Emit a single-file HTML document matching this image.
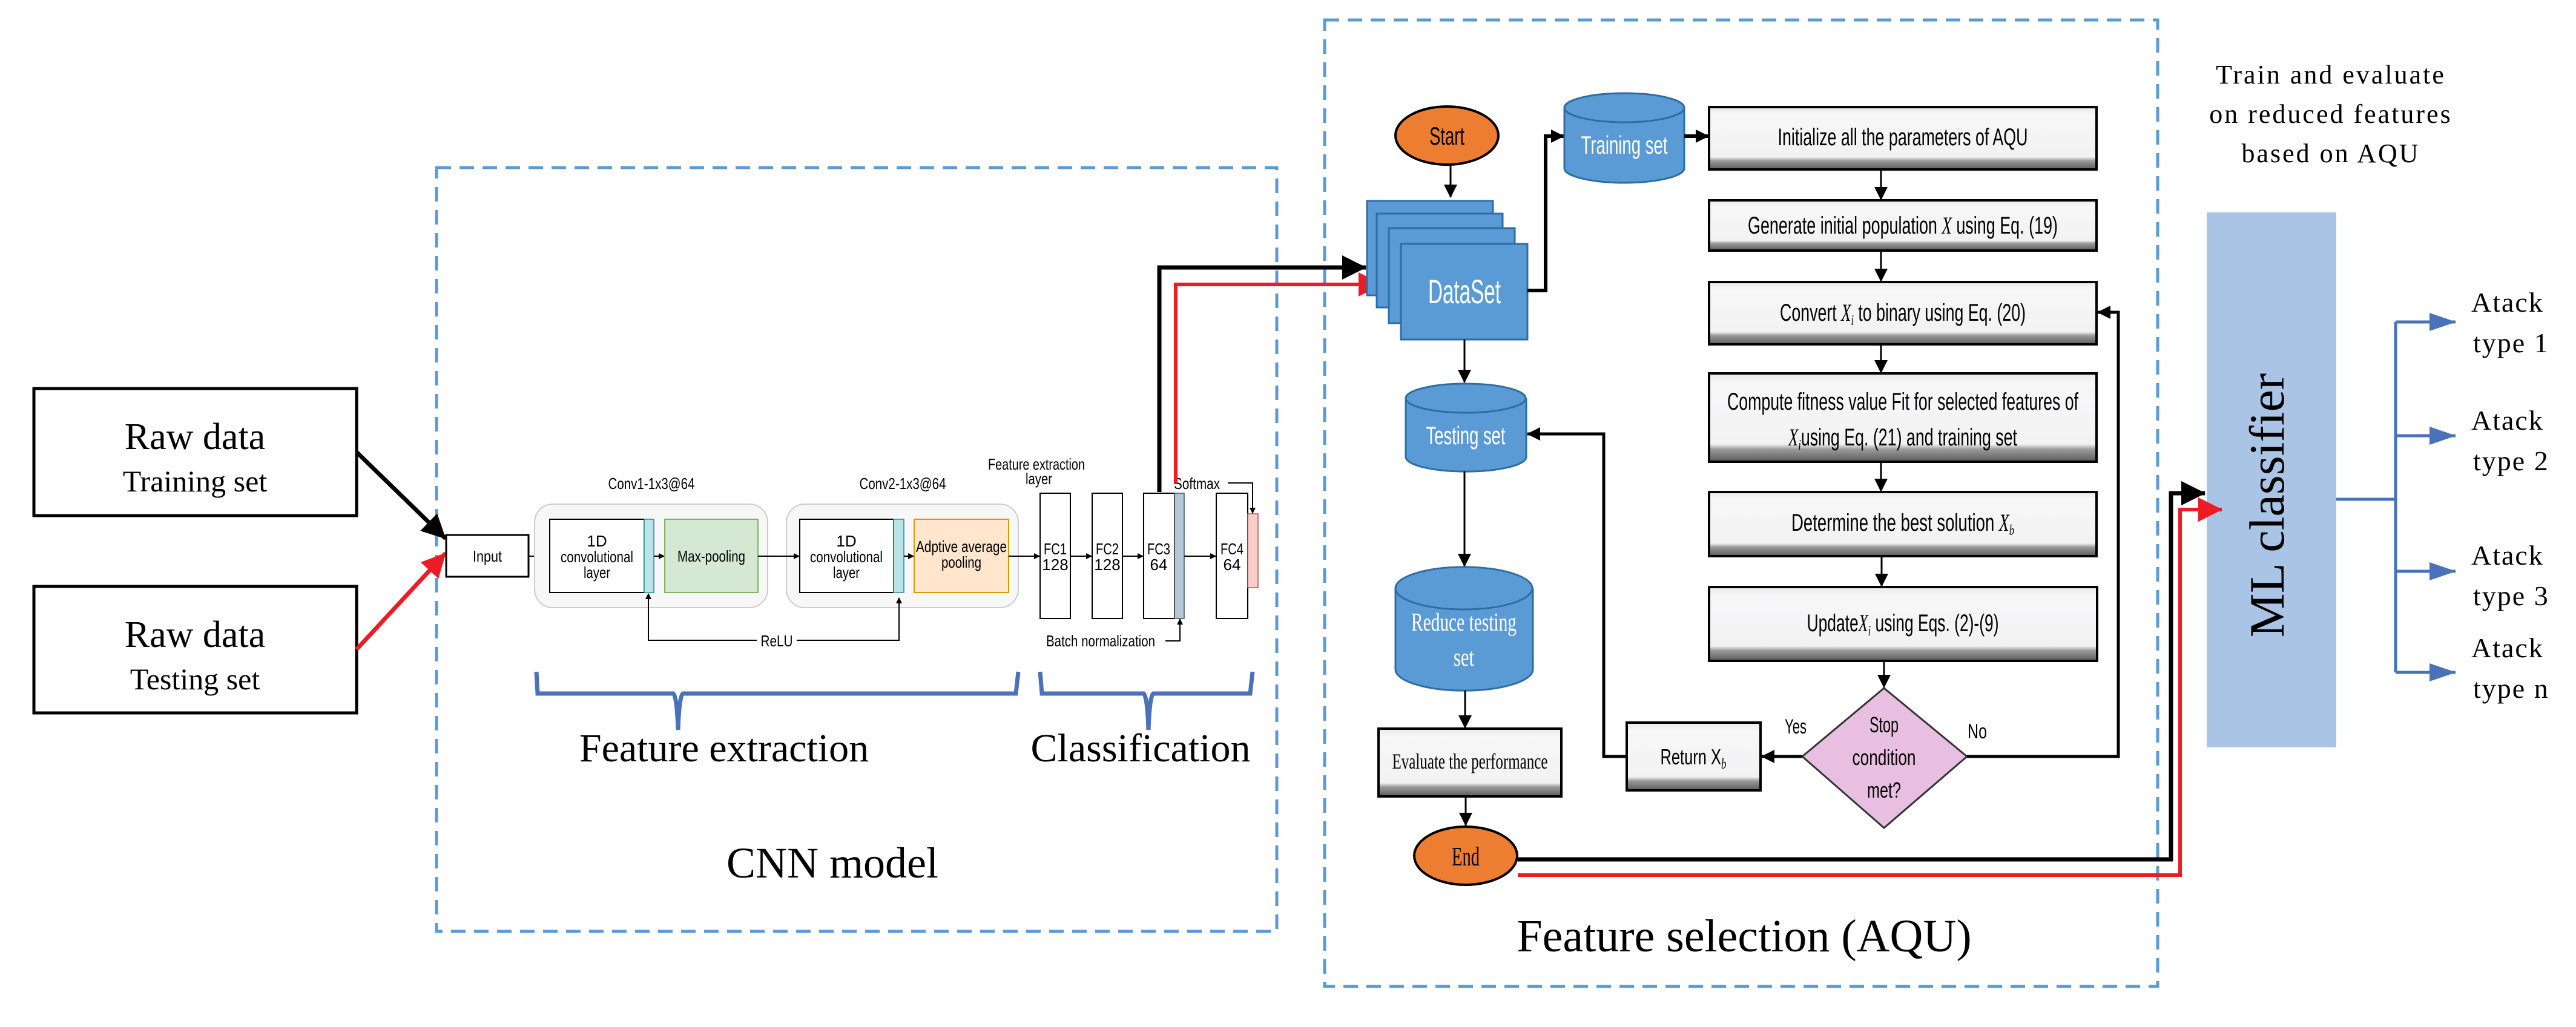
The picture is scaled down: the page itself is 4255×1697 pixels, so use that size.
<!DOCTYPE html>
<html><head><meta charset="utf-8"><style>
html,body{margin:0;padding:0;background:#fff}
svg{display:block}
.n{font-family:"Liberation Sans Narrow","Liberation Sans",sans-serif}
.s{font-family:"Liberation Serif",serif}
</style></head><body>
<svg width="4255" height="1697" viewBox="0 0 4255 1697" xmlns="http://www.w3.org/2000/svg">
<defs>
<linearGradient id="g" x1="0" y1="0" x2="0" y2="1">
<stop offset="0" stop-color="#e9e9ea"/><stop offset="0.12" stop-color="#f7f7f8"/><stop offset="0.8" stop-color="#f2f2f3"/><stop offset="0.86" stop-color="#9a9a9a"/><stop offset="1" stop-color="#5a5a5a"/>
</linearGradient>
<marker id="ab" markerWidth="10" markerHeight="10" refX="9" refY="5" orient="auto" markerUnits="userSpaceOnUse" viewBox="0 0 10 10"><path d="M0,0 L10,5 L0,10 z" fill="#000"/></marker>
<marker id="am" markerWidth="22" markerHeight="22" refX="21" refY="11" orient="auto" markerUnits="userSpaceOnUse" viewBox="0 0 22 22"><path d="M0,0 L22,11 L0,22 z" fill="#000"/></marker>
<marker id="ar" markerWidth="40" markerHeight="40" refX="39" refY="20" orient="auto" markerUnits="userSpaceOnUse" viewBox="0 0 40 40"><path d="M0,0 L40,20 L0,40 z" fill="#ed1c24"/></marker>
<marker id="akb" markerWidth="40" markerHeight="40" refX="39" refY="20" orient="auto" markerUnits="userSpaceOnUse" viewBox="0 0 40 40"><path d="M0,0 L40,20 L0,40 z" fill="#000"/></marker>
<marker id="abl" markerWidth="44" markerHeight="30" refX="43" refY="15" orient="auto" markerUnits="userSpaceOnUse" viewBox="0 0 44 30"><path d="M0,0 L44,15 L0,30 z" fill="#4a72b8"/></marker>
</defs>

<rect x="721" y="277" width="1388" height="1262" fill="none" stroke="#5b9bd5" stroke-width="5" stroke-dasharray="24,14"/>
<rect x="2188" y="33" width="1376" height="1597" fill="none" stroke="#5b9bd5" stroke-width="5" stroke-dasharray="24,14"/>

<rect x="56" y="642" width="533" height="210" fill="#fff" stroke="#000" stroke-width="5"/>
<text x="322" y="742" text-anchor="middle" class="s" font-size="62">Raw data</text>
<text x="322" y="812" text-anchor="middle" class="s" font-size="50">Training set</text>
<rect x="56" y="969" width="533" height="209" fill="#fff" stroke="#000" stroke-width="5"/>
<text x="322" y="1069" text-anchor="middle" class="s" font-size="62">Raw data</text>
<text x="322" y="1139" text-anchor="middle" class="s" font-size="50">Testing set</text>
<line x1="589" y1="747" x2="736" y2="890" stroke="#000" stroke-width="7" marker-end="url(#akb)"/>
<line x1="589" y1="1073" x2="736" y2="914" stroke="#ed1c24" stroke-width="7" marker-end="url(#ar)"/>

<g class="n" font-size="26" text-anchor="middle">
<rect x="737" y="884" width="136" height="69" fill="#fff" stroke="#000" stroke-width="3"/>
<text x="805" y="928" textLength="48" lengthAdjust="spacingAndGlyphs">Input</text>
<line x1="873" y1="919" x2="907" y2="919" stroke="#000" stroke-width="2" marker-end="url(#ab)"/>
<rect x="883" y="833" width="385" height="171" rx="30" fill="#f7f7f7" stroke="#ccc" stroke-width="2"/>
<rect x="1299" y="833" width="383" height="171" rx="30" fill="#f7f7f7" stroke="#ccc" stroke-width="2"/>
<text x="1076" y="808" textLength="143" lengthAdjust="spacingAndGlyphs">Conv1-1x3@64</text>
<text x="1491" y="808" textLength="143" lengthAdjust="spacingAndGlyphs">Conv2-1x3@64</text>
<rect x="908" y="858" width="156" height="121" fill="#fff" stroke="#000" stroke-width="2"/>
<rect x="1064" y="858" width="16" height="121" fill="#b9e3e6" stroke="#2a8a96" stroke-width="1.5"/>
<text x="986" y="903">1D</text>
<text x="986" y="929" textLength="120" lengthAdjust="spacingAndGlyphs">convolutional</text>
<text x="986" y="955" textLength="44" lengthAdjust="spacingAndGlyphs">layer</text>
<line x1="1080" y1="919" x2="1097" y2="919" stroke="#000" stroke-width="2" marker-end="url(#ab)"/>
<rect x="1098" y="858" width="154" height="121" fill="#d5e8d4" stroke="#82b366" stroke-width="2"/>
<text x="1175" y="928" textLength="112" lengthAdjust="spacingAndGlyphs">Max-pooling</text>
<line x1="1252" y1="919" x2="1320" y2="919" stroke="#000" stroke-width="2" marker-end="url(#ab)"/>
<rect x="1321" y="858" width="155" height="121" fill="#fff" stroke="#000" stroke-width="2"/>
<rect x="1476" y="858" width="17" height="121" fill="#b9e3e6" stroke="#2a8a96" stroke-width="1.5"/>
<text x="1398" y="903">1D</text>
<text x="1398" y="929" textLength="120" lengthAdjust="spacingAndGlyphs">convolutional</text>
<text x="1398" y="955" textLength="44" lengthAdjust="spacingAndGlyphs">layer</text>
<line x1="1493" y1="919" x2="1509" y2="919" stroke="#000" stroke-width="2" marker-end="url(#ab)"/>
<rect x="1510" y="858" width="156" height="121" fill="#ffe6cc" stroke="#d79b00" stroke-width="2"/>
<text x="1588" y="912" textLength="150" lengthAdjust="spacingAndGlyphs">Adptive average</text>
<text x="1588" y="938" textLength="66" lengthAdjust="spacingAndGlyphs">pooling</text>
<line x1="1666" y1="919" x2="1717" y2="919" stroke="#000" stroke-width="2" marker-end="url(#ab)"/>
<polyline points="1071,987 1071,1058 1250,1058" fill="none" stroke="#000" stroke-width="2"/>
<polyline points="1316,1058 1485,1058 1485,988" fill="none" stroke="#000" stroke-width="2" marker-end="url(#ab)"/>
<line x1="1071" y1="1058" x2="1071" y2="981" stroke="#000" stroke-width="2" marker-end="url(#ab)"/>
<text x="1283" y="1068" textLength="53" lengthAdjust="spacingAndGlyphs">ReLU</text>

<rect x="1718" y="815" width="50" height="207" fill="#fff" stroke="#000" stroke-width="2"/>
<rect x="1804" y="815" width="50" height="207" fill="#fff" stroke="#000" stroke-width="2"/>
<rect x="1889" y="815" width="51" height="207" fill="#fff" stroke="#000" stroke-width="2"/>
<rect x="1940" y="815" width="16" height="207" fill="#b6c6d4" stroke="#3a5670" stroke-width="1.5"/>
<rect x="2009" y="815" width="52" height="207" fill="#fff" stroke="#000" stroke-width="2"/>
<rect x="2061" y="849" width="17" height="122" fill="#f8cecc" stroke="#b85450" stroke-width="1.5"/>
<text x="1743" y="916" textLength="38" lengthAdjust="spacingAndGlyphs">FC1</text><text x="1743" y="942">128</text>
<text x="1829" y="916" textLength="38" lengthAdjust="spacingAndGlyphs">FC2</text><text x="1829" y="942">128</text>
<text x="1914" y="916" textLength="38" lengthAdjust="spacingAndGlyphs">FC3</text><text x="1914" y="942">64</text>
<text x="2035" y="916" textLength="38" lengthAdjust="spacingAndGlyphs">FC4</text><text x="2035" y="942">64</text>
<line x1="1768" y1="919" x2="1803" y2="919" stroke="#000" stroke-width="2" marker-end="url(#ab)"/>
<line x1="1854" y1="919" x2="1888" y2="919" stroke="#000" stroke-width="2" marker-end="url(#ab)"/>
<line x1="1956" y1="919" x2="2008" y2="919" stroke="#000" stroke-width="2" marker-end="url(#ab)"/>
<text x="1712" y="776" textLength="160" lengthAdjust="spacingAndGlyphs">Feature extraction</text>
<text x="1716" y="800" textLength="44" lengthAdjust="spacingAndGlyphs">layer</text>
<text x="1977" y="808" textLength="76" lengthAdjust="spacingAndGlyphs">Softmax</text>
<polyline points="2028,798 2069,798 2069,848" fill="none" stroke="#000" stroke-width="2" marker-end="url(#ab)"/>
<text x="1818" y="1068" textLength="180" lengthAdjust="spacingAndGlyphs">Batch normalization</text>
<polyline points="1925,1059 1949,1059 1949,1023" fill="none" stroke="#000" stroke-width="2" marker-end="url(#ab)"/>
</g>

<polyline points="1915,813 1915,442 2256,442" fill="none" stroke="#000" stroke-width="7" marker-end="url(#akb)"/>
<polyline points="1942,800 1942,470 2283,470" fill="none" stroke="#ed1c24" stroke-width="6" marker-end="url(#ar)"/>

<path d="M886,1110 L888,1146 L1112,1146 Q1118,1150 1120,1206 Q1122,1150 1128,1146 L1678,1146 L1682,1110" fill="none" stroke="#4a72b8" stroke-width="7"/>
<path d="M1718,1110 L1721,1146 L1889,1146 Q1895,1150 1897,1206 Q1899,1150 1905,1146 L2065,1146 L2069,1110" fill="none" stroke="#4a72b8" stroke-width="7"/>
<text x="1196" y="1258" text-anchor="middle" class="s" font-size="66">Feature extraction</text>
<text x="1884" y="1258" text-anchor="middle" class="s" font-size="66">Classification</text>
<text x="1375" y="1450" text-anchor="middle" class="s" font-size="72">CNN model</text>

<g class="n" text-anchor="middle">
<ellipse cx="2390" cy="224" rx="85" ry="48" fill="#ed7d31" stroke="#000" stroke-width="4"/>
<text x="2390" y="239" font-size="42" textLength="58" lengthAdjust="spacingAndGlyphs">Start</text>
<line x1="2396" y1="273" x2="2396" y2="326" stroke="#000" stroke-width="3" marker-end="url(#am)"/>
<rect x="2258" y="332" width="208" height="156" fill="#5b9bd5" stroke="#2e6da4" stroke-width="3"/>
<rect x="2274" y="353" width="208" height="155" fill="#5b9bd5" stroke="#2e6da4" stroke-width="3"/>
<rect x="2294" y="377" width="208" height="157" fill="#5b9bd5" stroke="#2e6da4" stroke-width="3"/>
<rect x="2314" y="403" width="209" height="158" fill="#5b9bd5" stroke="#2e6da4" stroke-width="3"/>
<text x="2419" y="501" font-size="56" fill="#fff" textLength="120" lengthAdjust="spacingAndGlyphs">DataSet</text>
<polyline points="2523,480 2553,480 2553,225 2583,225" fill="none" stroke="#000" stroke-width="6" marker-end="url(#am)"/>
<path d="M2584,178 L2584,278 A99,24 0 0 0 2782,278 L2782,178" fill="#5b9bd5" stroke="#2e6da4" stroke-width="3"/>
<ellipse cx="2683" cy="178" rx="99" ry="24" fill="#5b9bd5" stroke="#2e6da4" stroke-width="3"/>
<text x="2683" y="254" font-size="42" fill="#fff" textLength="143" lengthAdjust="spacingAndGlyphs">Training set</text>
<line x1="2782" y1="225" x2="2822" y2="225" stroke="#000" stroke-width="6" marker-end="url(#am)"/>

<rect x="2823" y="177" width="640" height="103" fill="url(#g)" stroke="#000" stroke-width="4"/>
<text x="3143" y="240" font-size="40" textLength="413" lengthAdjust="spacingAndGlyphs">Initialize all the parameters of AQU</text>
<line x1="3107" y1="280" x2="3107" y2="330" stroke="#000" stroke-width="3" marker-end="url(#am)"/>
<rect x="2823" y="331" width="640" height="83" fill="url(#g)" stroke="#000" stroke-width="4"/>
<text x="3143" y="386" font-size="40" textLength="512" lengthAdjust="spacingAndGlyphs">Generate initial population <tspan font-style="italic" class="s">X</tspan> using Eq. (19)</text>
<line x1="3107" y1="414" x2="3107" y2="465" stroke="#000" stroke-width="3" marker-end="url(#am)"/>
<rect x="2823" y="466" width="640" height="103" fill="url(#g)" stroke="#000" stroke-width="4"/>
<text x="3143" y="530" font-size="40" textLength="406" lengthAdjust="spacingAndGlyphs">Convert <tspan font-style="italic" class="s">X<tspan font-size="24" dy="7">i</tspan></tspan><tspan dy="-7"> to binary using Eq. (20)</tspan></text>
<line x1="3107" y1="569" x2="3107" y2="616" stroke="#000" stroke-width="3" marker-end="url(#am)"/>
<rect x="2823" y="617" width="640" height="146" fill="url(#g)" stroke="#000" stroke-width="4"/>
<text x="3143" y="677" font-size="40" textLength="580" lengthAdjust="spacingAndGlyphs">Compute fitness value Fit for selected features of</text>
<text x="3143" y="736" font-size="40" textLength="378" lengthAdjust="spacingAndGlyphs"><tspan font-style="italic" class="s">X<tspan font-size="24" dy="7">i</tspan></tspan><tspan dy="-7">using Eq. (21) and training set</tspan></text>
<line x1="3107" y1="763" x2="3107" y2="812" stroke="#000" stroke-width="3" marker-end="url(#am)"/>
<rect x="2823" y="813" width="640" height="106" fill="url(#g)" stroke="#000" stroke-width="4"/>
<text x="3143" y="877" font-size="40" textLength="368" lengthAdjust="spacingAndGlyphs">Determine the best solution <tspan font-style="italic" class="s">X<tspan font-size="24" dy="7">b</tspan></tspan></text>
<line x1="3108" y1="919" x2="3108" y2="969" stroke="#000" stroke-width="3" marker-end="url(#am)"/>
<rect x="2823" y="970" width="641" height="122" fill="url(#g)" stroke="#000" stroke-width="4"/>
<text x="3143" y="1043" font-size="40" textLength="317" lengthAdjust="spacingAndGlyphs">Update<tspan font-style="italic" class="s">X<tspan font-size="24" dy="7">i</tspan></tspan><tspan dy="-7"> using Eqs. (2)-(9)</tspan></text>
<line x1="3112" y1="1092" x2="3112" y2="1136" stroke="#000" stroke-width="3" marker-end="url(#am)"/>
<polygon points="3112,1137 3249,1250 3112,1368 2977,1250" fill="#e8bfe0" stroke="#333" stroke-width="3"/>
<text x="3112" y="1210" font-size="36" textLength="48" lengthAdjust="spacingAndGlyphs">Stop</text>
<text x="3112" y="1264" font-size="36" textLength="105" lengthAdjust="spacingAndGlyphs">condition</text>
<text x="3112" y="1318" font-size="36" textLength="56" lengthAdjust="spacingAndGlyphs">met?</text>
<text x="2966" y="1212" font-size="34" textLength="36" lengthAdjust="spacingAndGlyphs">Yes</text>
<text x="3266" y="1220" font-size="34" textLength="32" lengthAdjust="spacingAndGlyphs">No</text>
<polyline points="3249,1250 3499,1250 3499,516 3465,516" fill="none" stroke="#000" stroke-width="5" marker-end="url(#am)"/>
<line x1="2977" y1="1250" x2="2910" y2="1250" stroke="#000" stroke-width="5" marker-end="url(#am)"/>
<rect x="2687" y="1194" width="221" height="112" fill="url(#g)" stroke="#000" stroke-width="4"/>
<text x="2797" y="1263" font-size="36" textLength="109" lengthAdjust="spacingAndGlyphs">Return X<tspan font-size="24" dy="7" class="s" font-style="italic">b</tspan></text>
<polyline points="2687,1250 2649,1250 2649,717 2523,717" fill="none" stroke="#000" stroke-width="5" marker-end="url(#am)"/>

<path d="M2322,658 L2322,755 A99,24 0 0 0 2521,755 L2521,658" fill="#5b9bd5" stroke="#2e6da4" stroke-width="3"/>
<ellipse cx="2421" cy="658" rx="99" ry="24" fill="#5b9bd5" stroke="#2e6da4" stroke-width="3"/>
<text x="2421" y="734" font-size="42" fill="#fff" textLength="131" lengthAdjust="spacingAndGlyphs">Testing set</text>
<line x1="2419" y1="561" x2="2419" y2="632" stroke="#000" stroke-width="3" marker-end="url(#am)"/>
<line x1="2419" y1="779" x2="2419" y2="936" stroke="#000" stroke-width="3" marker-end="url(#am)"/>
<path d="M2305,972 L2305,1106 A113,35 0 0 0 2532,1106 L2532,972" fill="#5b9bd5" stroke="#2e6da4" stroke-width="3"/>
<ellipse cx="2418" cy="972" rx="113" ry="35" fill="#5b9bd5" stroke="#2e6da4" stroke-width="3"/>
<text x="2418" y="1042" class="s" font-size="42" fill="#fff" textLength="174" lengthAdjust="spacingAndGlyphs">Reduce testing</text>
<text x="2418" y="1100" class="s" font-size="42" fill="#fff" textLength="34" lengthAdjust="spacingAndGlyphs">set</text>
<line x1="2420" y1="1141" x2="2420" y2="1203" stroke="#000" stroke-width="3" marker-end="url(#am)"/>
<rect x="2277" y="1204" width="302" height="112" fill="url(#g)" stroke="#000" stroke-width="4"/>
<text x="2428" y="1270" class="s" font-size="36" textLength="257" lengthAdjust="spacingAndGlyphs">Evaluate the performance</text>
<line x1="2421" y1="1316" x2="2421" y2="1364" stroke="#000" stroke-width="3" marker-end="url(#am)"/>
<ellipse cx="2421" cy="1414" rx="85" ry="48" fill="#ed7d31" stroke="#000" stroke-width="4"/>
<text x="2421" y="1430" class="s" font-size="44" textLength="46" lengthAdjust="spacingAndGlyphs">End</text>
</g>
<text x="2881" y="1572" text-anchor="middle" class="s" font-size="76">Feature selection (AQU)</text>

<polyline points="2507,1420 3586,1420 3586,815 3642,815" fill="none" stroke="#000" stroke-width="7" marker-end="url(#akb)"/>
<polyline points="2507,1446 3601,1446 3601,842 3670,842" fill="none" stroke="#ed1c24" stroke-width="6" marker-end="url(#ar)"/>

<rect x="3645" y="351" width="214" height="884" fill="#a9c4e4"/>
<polyline points="3586,815 3642,815" fill="none" stroke="#000" stroke-width="7" marker-end="url(#akb)"/>
<polyline points="3601,842 3670,842" fill="none" stroke="#ed1c24" stroke-width="6" marker-end="url(#ar)"/>
<text transform="translate(3772,835) rotate(-90)" text-anchor="middle" class="s" font-size="82">ML classifier</text>
<text x="3850" y="138" text-anchor="middle" class="s" font-size="44" letter-spacing="3">Train and evaluate</text>
<text x="3850" y="203" text-anchor="middle" class="s" font-size="44" letter-spacing="3">on reduced features</text>
<text x="3850" y="268" text-anchor="middle" class="s" font-size="44" letter-spacing="3">based on AQU</text>
<line x1="3859" y1="825" x2="3957" y2="825" stroke="#4a72b8" stroke-width="5"/>
<line x1="3957" y1="532" x2="3957" y2="1111" stroke="#4a72b8" stroke-width="5"/>
<line x1="3957" y1="532" x2="4056" y2="532" stroke="#4a72b8" stroke-width="5" marker-end="url(#abl)"/>
<line x1="3957" y1="720" x2="4056" y2="720" stroke="#4a72b8" stroke-width="5" marker-end="url(#abl)"/>
<line x1="3957" y1="944" x2="4056" y2="944" stroke="#4a72b8" stroke-width="5" marker-end="url(#abl)"/>
<line x1="3957" y1="1111" x2="4056" y2="1111" stroke="#4a72b8" stroke-width="5" marker-end="url(#abl)"/>
<g class="s" font-size="46" letter-spacing="2">
<text x="4082" y="515">Atack</text><text x="4085" y="582">type 1</text>
<text x="4082" y="710">Atack</text><text x="4085" y="777">type 2</text>
<text x="4082" y="933">Atack</text><text x="4085" y="1000">type 3</text>
<text x="4082" y="1086">Atack</text><text x="4085" y="1153">type n</text>
</g>
</svg>
</body></html>
